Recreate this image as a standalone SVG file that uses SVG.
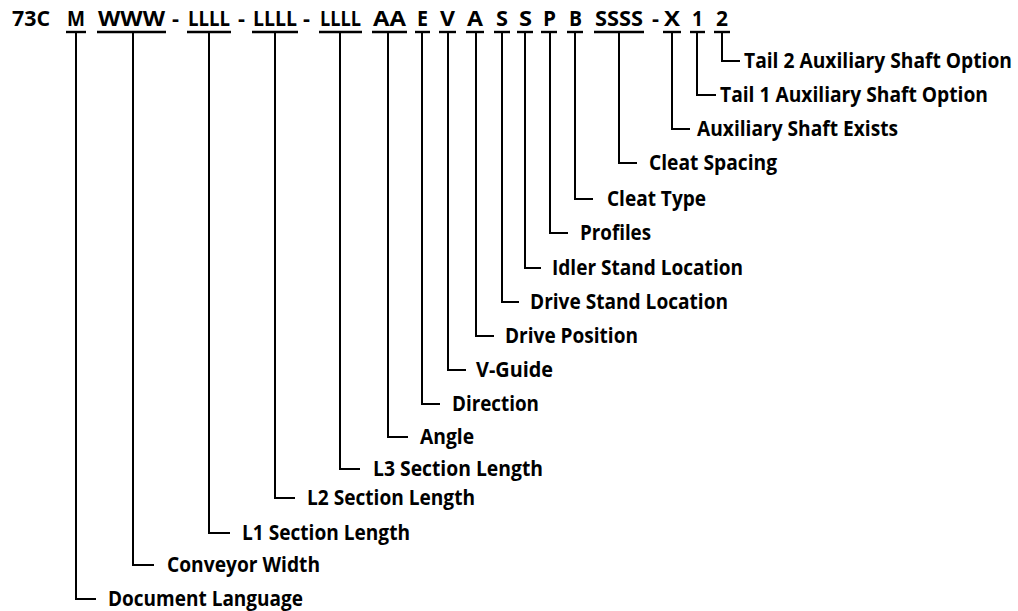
<svg xmlns="http://www.w3.org/2000/svg" width="1018" height="611" viewBox="0 0 1018 611">
<style>
.t{font-family:"Open Sans","Liberation Sans",sans-serif;font-weight:700;font-size:22px;fill:#000}
.c{stroke:#000;stroke-width:2;fill:none}
.u{stroke:#000;stroke-width:2.4}
</style>
<rect width="1018" height="611" fill="#fff"/>
<g id="prefix"><text class="t" x="12" y="26" textLength="38" lengthAdjust="spacingAndGlyphs">73C</text></g>
<g id="sep1"><text class="t" x="172" y="26" textLength="7" lengthAdjust="spacingAndGlyphs">-</text></g>
<g id="sep2"><text class="t" x="238" y="26" textLength="7" lengthAdjust="spacingAndGlyphs">-</text></g>
<g id="sep3"><text class="t" x="303" y="26" textLength="7" lengthAdjust="spacingAndGlyphs">-</text></g>
<g id="sep4"><text class="t" x="652" y="26" textLength="7" lengthAdjust="spacingAndGlyphs">-</text></g>

<g id="document-language">
<text class="t" x="67" y="26" textLength="18" lengthAdjust="spacingAndGlyphs">M</text>
<line class="u" x1="66" y1="32" x2="86" y2="32"/>
<text class="t" x="108" y="606" textLength="195" lengthAdjust="spacingAndGlyphs">Document Language</text>
</g>
<g id="conveyor-width">
<text class="t" x="98" y="26" textLength="67" lengthAdjust="spacingAndGlyphs">WWW</text>
<line class="u" x1="97" y1="32" x2="166" y2="32"/>
<text class="t" x="167" y="572" textLength="153" lengthAdjust="spacingAndGlyphs">Conveyor Width</text>
</g>
<g id="l1-section-length">
<text class="t" x="188" y="26" textLength="42" lengthAdjust="spacingAndGlyphs">LLLL</text>
<line class="u" x1="187" y1="32" x2="231" y2="32"/>
<text class="t" x="242" y="540" textLength="168" lengthAdjust="spacingAndGlyphs">L1 Section Length</text>
</g>
<g id="l2-section-length">
<text class="t" x="253" y="26" textLength="44" lengthAdjust="spacingAndGlyphs">LLLL</text>
<line class="u" x1="252" y1="32" x2="298" y2="32"/>
<text class="t" x="307" y="505" textLength="168" lengthAdjust="spacingAndGlyphs">L2 Section Length</text>
</g>
<g id="l3-section-length">
<text class="t" x="320" y="26" textLength="41" lengthAdjust="spacingAndGlyphs">LLLL</text>
<line class="u" x1="319" y1="32" x2="362" y2="32"/>
<text class="t" x="373" y="476" textLength="170" lengthAdjust="spacingAndGlyphs">L3 Section Length</text>
</g>
<g id="angle">
<text class="t" x="373" y="26" textLength="33" lengthAdjust="spacingAndGlyphs">AA</text>
<line class="u" x1="372" y1="32" x2="407" y2="32"/>
<text class="t" x="420" y="444" textLength="54" lengthAdjust="spacingAndGlyphs">Angle</text>
</g>
<g id="direction">
<text class="t" x="417" y="26" textLength="11" lengthAdjust="spacingAndGlyphs">E</text>
<line class="u" x1="415" y1="32" x2="430" y2="32"/>
<text class="t" x="452" y="411" textLength="87" lengthAdjust="spacingAndGlyphs">Direction</text>
</g>
<g id="v-guide">
<text class="t" x="440" y="26" textLength="15" lengthAdjust="spacingAndGlyphs">V</text>
<line class="u" x1="439" y1="32" x2="456" y2="32"/>
<text class="t" x="476" y="377" textLength="77" lengthAdjust="spacingAndGlyphs">V-Guide</text>
</g>
<g id="drive-position">
<text class="t" x="467" y="26" textLength="16" lengthAdjust="spacingAndGlyphs">A</text>
<line class="u" x1="466" y1="32" x2="484" y2="32"/>
<text class="t" x="505" y="343" textLength="133" lengthAdjust="spacingAndGlyphs">Drive Position</text>
</g>
<g id="drive-stand-location">
<text class="t" x="496" y="26" textLength="12" lengthAdjust="spacingAndGlyphs">S</text>
<line class="u" x1="494" y1="32" x2="510" y2="32"/>
<text class="t" x="530" y="309" textLength="198" lengthAdjust="spacingAndGlyphs">Drive Stand Location</text>
</g>
<g id="idler-stand-location">
<text class="t" x="519" y="26" textLength="13" lengthAdjust="spacingAndGlyphs">S</text>
<line class="u" x1="517" y1="32" x2="533" y2="32"/>
<text class="t" x="552" y="275" textLength="191" lengthAdjust="spacingAndGlyphs">Idler Stand Location</text>
</g>
<g id="profiles">
<text class="t" x="543" y="26" textLength="13" lengthAdjust="spacingAndGlyphs">P</text>
<line class="u" x1="541" y1="32" x2="557" y2="32"/>
<text class="t" x="580" y="240" textLength="71" lengthAdjust="spacingAndGlyphs">Profiles</text>
</g>
<g id="cleat-type">
<text class="t" x="569" y="26" textLength="13" lengthAdjust="spacingAndGlyphs">B</text>
<line class="u" x1="567" y1="32" x2="583" y2="32"/>
<text class="t" x="607" y="206" textLength="99" lengthAdjust="spacingAndGlyphs">Cleat Type</text>
</g>
<g id="cleat-spacing">
<text class="t" x="595" y="26" textLength="48" lengthAdjust="spacingAndGlyphs">SSSS</text>
<line class="u" x1="594" y1="32" x2="644" y2="32"/>
<text class="t" x="649" y="170" textLength="128" lengthAdjust="spacingAndGlyphs">Cleat Spacing</text>
</g>
<g id="auxiliary-shaft-exists">
<text class="t" x="664" y="26" textLength="16" lengthAdjust="spacingAndGlyphs">X</text>
<line class="u" x1="663" y1="32" x2="681" y2="32"/>
<text class="t" x="697" y="136" textLength="201" lengthAdjust="spacingAndGlyphs">Auxiliary Shaft Exists</text>
</g>
<g id="tail-1-auxiliary-shaft-option">
<text class="t" x="692" y="26" textLength="11" lengthAdjust="spacingAndGlyphs">1</text>
<line class="u" x1="690" y1="32" x2="705" y2="32"/>
<text class="t" x="720" y="102" textLength="268" lengthAdjust="spacingAndGlyphs">Tail 1 Auxiliary Shaft Option</text>
</g>
<g id="tail-2-auxiliary-shaft-option">
<text class="t" x="744" y="68" textLength="268" lengthAdjust="spacingAndGlyphs">Tail 2 Auxiliary Shaft Option</text>
<text class="t" x="716" y="26" textLength="12" lengthAdjust="spacingAndGlyphs">2</text>
<line class="u" x1="714" y1="32" x2="730" y2="32"/>
</g>

<g id="connectors">
<path class="c" d="M76 32V599H96"/>
<path class="c" d="M133 32V565H154"/>
<path class="c" d="M209 32V533H230"/>
<path class="c" d="M275 32V498H295"/>
<path class="c" d="M340 32V469H360"/>
<path class="c" d="M388 32V437H408"/>
<path class="c" d="M422 32V404H440"/>
<path class="c" d="M448 32V370H466"/>
<path class="c" d="M476 32V336H494"/>
<path class="c" d="M502 32V302H519"/>
<path class="c" d="M525 32V268H541"/>
<path class="c" d="M550 32V233H568"/>
<path class="c" d="M575 32V199H593"/>
<path class="c" d="M619 32V163H637"/>
<path class="c" d="M672 32V129H690"/>
<path class="c" d="M697 32V95H716"/>
<path class="c" d="M722 32V61H740"/>
</g>
</svg>
